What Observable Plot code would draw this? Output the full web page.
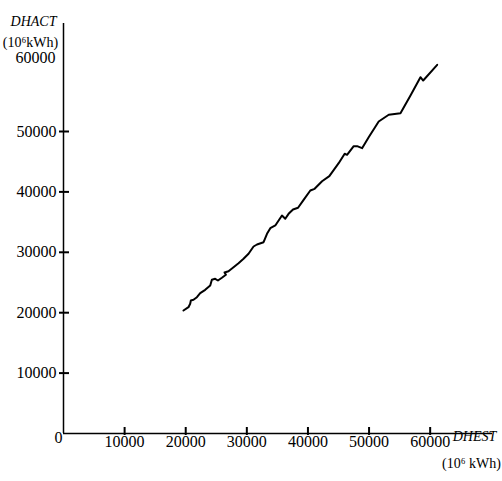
<!DOCTYPE html>
<html>
<head>
<meta charset="utf-8">
<script src="https://cdn.jsdelivr.net/npm/d3@7"></script>
<script src="https://cdn.jsdelivr.net/npm/@observablehq/plot@0.6"></script>
<style>
  html, body { margin: 0; padding: 0; background: #fff; }
  #chart svg { display: block; }
</style>
</head>
<body>
<div id="chart"></div>
<script>
// Estimated (DHEST, DHACT) pairs, 10^6 kWh, in drawing order
const dhest = [19630,20450,20730,20840,21270,21830,22370,23190,24010,24280,24820,25270,25920,26580,26350,27000,27820,28640,29460,30280,31100,31660,32740,33300,33840,34660,35750,36290,36830,37560,38380,39290,40390,41090,42310,43500,45030,46010,46400,47490,48040,48860,49940,51580,53220,55140,56780,58410,58860,61150];
const dhact = [20360,20910,21470,22020,22140,22570,23230,23790,24500,25450,25610,25330,25780,26280,26660,26870,27530,28200,28920,29750,30960,31290,31670,33060,33990,34440,36090,35550,36370,37090,37370,38690,40230,40510,41770,42600,44750,46310,46140,47570,47570,47240,49060,51660,52770,53030,55960,58990,58440,61040];

const xTicks = [10000, 20000, 30000, 40000, 50000, 60000];
const yTicks = [10000, 20000, 30000, 40000, 50000];
const yTopLabel = [60000];
const originLabel = [0];
const yTitle = ["DHACT"];
const yUnit = ["(10⁶kWh)"];
const xTitle = ["DHEST"];
const xUnit = ["(10⁶ kWh)"];

const data = dhest.map((x, i) => ({x, y: dhact[i]}));
const font = "'Liberation Serif', 'Times New Roman', serif";

const W = 502, H = 481, mL = 63, mR = 10, mT = 23, mB = 48;
const frameW = W - mL - mR, frameH = H - mT - mB;

const chart = Plot.plot({
  width: W,
  height: H,
  marginLeft: mL,
  marginRight: mR,
  marginTop: mT,
  marginBottom: mB,
  style: {fontFamily: font, fontSize: "16px", color: "#000", background: "#fff", overflow: "visible"},
  x: {domain: [0, 70200], axis: null, label: null},
  y: {domain: [0, 67880], axis: null, label: null},
  marks: [
    // axis lines
    Plot.ruleY([0], {stroke: "#000", strokeWidth: 1.5}),
    Plot.ruleX([0], {stroke: "#000", strokeWidth: 1.5}),
    // short ticks crossing the axes (rules trimmed with insets)
    Plot.ruleX(xTicks, {stroke: "#000", strokeWidth: 2, insetTop: frameH - 6, insetBottom: -2}),
    Plot.ruleY(yTicks, {stroke: "#000", strokeWidth: 2, insetLeft: -4, insetRight: frameW - 6}),
    // tick labels
    Plot.axisX({ticks: xTicks, tickSize: 0, tickPadding: 2, label: null, tickFormat: d => String(d), fill: "#000", fontSize: 16}),
    Plot.axisY({ticks: yTicks, tickSize: 0, tickPadding: 7, label: null, tickFormat: d => String(d), fill: "#000", fontSize: 16}),
    Plot.text(yTopLabel, {y: d => d, frameAnchor: "left", dx: -8, dy: -13, textAnchor: "end", text: d => String(d), fill: "#000", fontSize: 16}),
    Plot.text(originLabel, {x: d => d, y: d => d, dx: -5, dy: 4, text: d => String(d), fill: "#000", fontSize: 16}),
    // axis titles
    Plot.text(yTitle, {frameAnchor: "top-left", dx: -30, dy: -7, textAnchor: "middle", text: d => d, fontStyle: "italic", fill: "#000", fontSize: 14}),
    Plot.text(yUnit, {frameAnchor: "top-left", dx: -33, dy: 14, textAnchor: "middle", text: d => d, fill: "#000", fontSize: 14}),
    Plot.text(xTitle, {frameAnchor: "bottom-right", dx: -18, dy: 7, textAnchor: "middle", text: d => d, fontStyle: "italic", fill: "#000", fontSize: 14}),
    Plot.text(xUnit, {frameAnchor: "bottom-right", dx: -21, dy: 34, textAnchor: "middle", text: d => d, fill: "#000", fontSize: 14}),
    // data line
    Plot.line(data, {x: "x", y: "y", stroke: "#000", strokeWidth: 2, curve: "linear"})
  ]
});
document.getElementById("chart").appendChild(chart);
</script>
</body>
</html>
